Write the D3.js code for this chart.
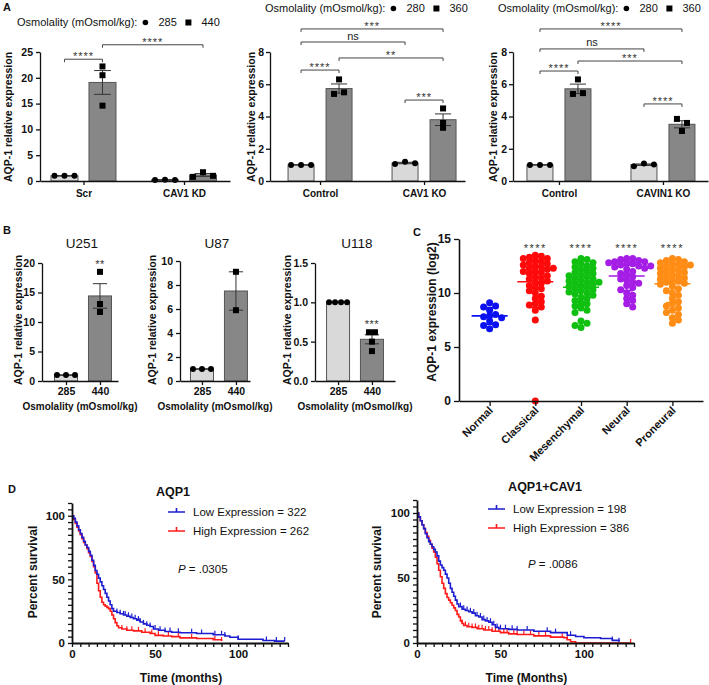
<!DOCTYPE html>
<html>
<head>
<meta charset="utf-8">
<script src="https://cdn.jsdelivr.net/npm/d3@7"></script>
<style>
  body { margin: 0; background: #fff; }
  text { font-family: 'Liberation Sans', Arial, sans-serif; }
</style>
</head>
<body>
<div id="fig"></div>
<script>
// ========================================
// Data
// ========================================
// --- Panel A (qPCR, replicate values per group: [low osmolality, high osmolality])
const osmoA1 = ['285', '440'];
const osmoA2 = ['280', '360'];
const groupsA1 = ['Scr', 'CAV1 KD'];
const groupsA2 = ['Control', 'CAV1 KO'];
const groupsA3 = ['Control', 'CAVIN1 KO'];
const valsA1 = [[[1.0, 1.0, 1.0], [22.2, 20.5, 14.6]], [[0.2, 0.25, 0.2], [0.8, 1.7, 1.0]]];
const valsA2 = [[[1.0, 1.0, 1.0], [6.3, 5.4, 5.5]], [[1.05, 1.2, 1.1], [4.5, 3.3, 3.6]]];
const valsA3 = [[[1.0, 1.0, 1.0], [6.3, 5.4, 5.45]], [[0.92, 1.08, 1.03], [3.85, 3.1, 3.6]]];
// comparisons: [group a, bar a, group b, bar b, label, level in y units]
const sigA1 = [[0, 0, 0, 1, '****', 23.6], [0, 1, 1, 1, '****', 26.4]];
const sigA2 = [[0, 0, 0, 1, '****', 6.88], [0, 1, 1, 1, '**', 7.63], [0, 0, 1, 0, 'ns', 8.62],
               [0, 0, 1, 1, '***', 9.43], [1, 0, 1, 1, '***', 5.02]];
const sigA3 = [[0, 0, 0, 1, '****', 6.82], [0, 1, 1, 1, '***', 7.44], [0, 0, 1, 0, 'ns', 8.19],
               [0, 0, 1, 1, '****', 9.43], [1, 0, 1, 1, '****', 4.78]];

// --- Panel B (cell lines)
const osmoB = ['285', '440'];
const valsU251 = [[1.0, 1.0, 1.0], [18.5, 13.05, 11.7]];
const valsU87 = [[1.0, 1.0, 1.0], [9.1, 5.9]];
const valsU118 = [[1.0, 1.0, 1.0, 1.0], [0.62, 0.5, 0.62, 0.38]];
const starsB = ['**', '', '***'];

// --- Panel C (TCGA subtypes, log2 expression)
const subtypes = ['Normal', 'Classical', 'Mesenchymal', 'Neural', 'Proneural'];
const subColors = ['#0a10f0', '#ff0a0a', '#10c010', '#a41ee6', '#ff8c14'];
const normal = [9.1, 8.8, 8.7, 8.4, 8.0, 7.9, 7.8, 7.7, 7.4, 7.05, 7.0, 6.7];
const classical = [13.5, 13.4, 13.3, 13.2, 13.2, 13.0, 12.9, 12.8, 12.7, 12.6, 12.5, 12.4, 12.3, 12.3,
  12.2, 12.0, 12.0, 11.9, 11.8, 11.6, 11.5, 11.4, 11.3, 11.1, 11.0, 10.9, 10.7, 10.5, 10.4, 10.2,
  10.0, 9.7, 9.5, 9.2, 9.0, 8.9, 8.7, 8.4, 7.5, 0.0];
const mesenchymal = [13.2, 13.1, 12.9, 12.8, 12.7, 12.5, 12.4, 12.3, 12.2, 12.0, 11.9, 11.8, 11.7,
  11.6, 11.5, 11.4, 11.3, 11.2, 11.1, 11.0, 11.0, 10.9, 10.8, 10.7, 10.6, 10.5, 10.4, 10.3, 10.2,
  10.1, 10.0, 9.9, 9.8, 9.6, 9.5, 9.3, 9.1, 9.0, 8.8, 8.6, 8.4, 8.2, 7.4, 7.2, 7.0, 6.8];
const neural = [13.2, 13.2, 13.1, 13.0, 12.9, 12.9, 12.8, 12.7, 12.7, 12.6, 12.5, 12.5, 12.4, 12.3,
  12.2, 12.0, 11.8, 11.7, 11.5, 11.3, 11.2, 11.0, 10.9, 10.7, 10.5, 10.3, 10.0, 9.8, 9.5, 9.3, 9.0, 8.7];
const proneural = [13.2, 13.1, 13.0, 12.9, 12.8, 12.7, 12.6, 12.6, 12.5, 12.4, 12.3, 12.2, 12.1, 12.0,
  11.9, 11.8, 11.7, 11.6, 11.5, 11.4, 11.3, 11.2, 11.1, 11.0, 10.9, 10.8, 10.6, 10.4, 10.2, 10.0,
  9.8, 9.5, 9.2, 9.0, 8.8, 8.6, 8.4, 8.2, 8.0, 7.7, 7.5, 7.2];
const subValues = [normal, classical, mesenchymal, neural, proneural];
const starsC = ['', '****', '****', '****', '****'];

// --- Panel D (Kaplan-Meier: [months, % survival] steps and censored times)
const kmLow1 = [[0, 100], [1, 98], [2, 95], [3, 92], [4, 89], [5, 86], [6, 83], [7, 80], [8, 77], [9, 75],
  [10, 72], [11, 69], [12, 65], [13, 61], [14, 57], [15, 54], [16, 51], [17, 48], [18, 45], [19, 42],
  [20, 39], [21, 36], [22, 33], [23, 30], [24, 27], [25, 25], [27, 24], [29, 23], [31, 22], [33, 21],
  [35, 20], [37, 19], [39, 18], [41, 16.5], [43, 15], [45, 14], [47, 13], [49, 11], [52, 10], [56, 9],
  [60, 8.5], [65, 8], [75, 7.5], [85, 6.5], [92, 5.5], [95, 4.5], [100, 3], [115, 2], [122, 1.5], [128, 1.5]];
const kmHigh1 = [[0, 100], [1, 97], [2, 94], [3, 91], [4, 88], [5, 85], [6, 82], [7, 79], [8, 77], [9, 74],
  [10, 71], [11, 68], [12, 64], [13, 60], [14, 55], [15, 47], [16, 41], [17, 36], [18, 32], [19, 30],
  [20, 29], [21, 28], [22, 27], [23, 25], [24, 22], [25, 19], [26, 16], [27, 13.5], [28, 12], [30, 11],
  [33, 10], [37, 9.5], [42, 8.5], [47, 7.5], [50, 6], [55, 5.5], [60, 5], [65, 4], [75, 3.5], [85, 2.5], [90, 1.5]];
const censLow1 = [27, 29, 31, 32, 34, 36, 38, 40, 41, 43, 45, 47, 50, 53, 56, 59, 64, 72, 78, 86, 90, 92, 100, 117, 123, 128];
const censHigh1 = [30, 33, 36, 40, 44, 48, 52, 58, 64, 72, 86, 90];
const kmLow2 = [[0, 100], [1, 97], [2, 94], [3, 91], [4, 88], [5, 84], [6, 81], [7, 78], [8, 76], [9, 74],
  [10, 72], [11, 70], [12, 67], [13, 63], [14, 60], [15, 58], [16, 56], [17, 53], [18, 50], [19, 46],
  [20, 42], [21, 39], [22, 36], [23, 33], [24, 30], [25, 28], [27, 26], [29, 25], [31, 24], [33, 23],
  [35, 21], [37, 20], [39, 18], [41, 17], [43, 16], [45, 14], [47, 12], [49, 11], [55, 10.5], [60, 10],
  [70, 9], [80, 8], [90, 6], [95, 5], [100, 4], [110, 3.5], [117, 2], [121, 1]];
const kmHigh2 = [[0, 100], [1, 97], [2, 94], [3, 91], [4, 88], [5, 85], [6, 82], [7, 79], [8, 76], [9, 73],
  [10, 70], [11, 66], [12, 61], [13, 56], [14, 51], [15, 46], [16, 42], [17, 38], [18, 35], [19, 33],
  [20, 31], [21, 29], [22, 27], [23, 25], [24, 22], [25, 20], [26, 17], [27, 15], [28, 13.5], [30, 12.5],
  [33, 12], [36, 11], [40, 10], [45, 9], [50, 8], [55, 7], [60, 6.5], [70, 5.5], [80, 4.5], [88, 4],
  [90, 2.5], [92, 1], [95, 0], [128, 0]];
const censLow2 = [26, 28, 30, 32, 34, 36, 38, 40, 42, 44, 46, 48, 50, 53, 57, 60, 66, 78, 83, 92, 117, 121];
const censHigh2 = [27, 29, 31, 33, 35, 37, 39, 41, 43, 45, 47, 49, 52, 54, 58, 60, 64, 68, 73, 77, 87, 90, 128];

// ========================================
// SVG and common styles
// ========================================
const svg = d3.select('#fig').append('svg')
  .attr('width', 709).attr('height', 685)
  .style('background', '#fff');

const INK = '#111', LOWFILL = '#d9d9d9', HIGHFILL = '#878787', EDGE = '#555';

function styleAxis(a, fs) {
  a.selectAll('path, line').attr('stroke', INK).attr('stroke-width', 1.3);
  a.selectAll('text').attr('font-weight', 'bold').attr('font-size', fs).attr('fill', INK);
}

function label(x, y, txt, opt = {}) {
  return svg.append('text')
    .attr('x', x).attr('y', y)
    .attr('text-anchor', opt.anchor || 'start')
    .attr('font-size', opt.fs || 11)
    .attr('font-weight', opt.bold ? 'bold' : 'normal')
    .attr('font-style', opt.italic ? 'italic' : 'normal')
    .attr('fill', opt.fill || INK)
    .attr('transform', opt.rot ? `rotate(${opt.rot},${x},${y})` : null)
    .text(txt);
}

// spread replicate points that would sit on top of each other
function spreadX(vals, y, gap) {
  const pts = vals.map((v, i) => ({ v, i, py: y(v), dx: 0 }));
  const clusters = [];
  pts.slice().sort((a, b) => a.py - b.py).forEach(p => {
    const c = clusters[clusters.length - 1];
    if (c && p.py - c[c.length - 1].py < 4.5) c.push(p); else clusters.push([p]);
  });
  clusters.forEach(c => {
    c.sort((a, b) => a.i - b.i);
    c.forEach((p, j) => { p.dx = (j - (c.length - 1) / 2) * gap; });
  });
  return pts;
}

// ========================================
// Bar chart with replicate points (panels A and B)
// ========================================
function barPanel(o) {
  const g = svg.append('g');
  const x = d3.scalePoint().domain(o.groups).range([o.x0, o.x1]).padding(o.pad).align(o.align);
  const y = d3.scaleLinear().domain([0, o.ymax]).range([o.yb, o.yt]);

  o.vals.forEach((grp, gi) => grp.forEach((pts, bi) => {
    const cx = x(o.groups[gi]) + o.off[bi];
    const m = d3.mean(pts), se = d3.deviation(pts) / Math.sqrt(pts.length);
    g.append('rect')
      .attr('x', cx - o.bw / 2).attr('y', y(m))
      .attr('width', o.bw).attr('height', o.yb - y(m))
      .attr('fill', o.fill(gi, bi)).attr('stroke', EDGE).attr('stroke-width', 1);
    const cap = o.bw * 0.62;
    g.append('path')
      .attr('d', `M${cx},${y(m - se)}V${y(m + se)}M${cx - cap / 2},${y(m + se)}h${cap}M${cx - cap / 2},${y(m - se)}h${cap}`)
      .attr('stroke', '#333').attr('stroke-width', 1).attr('fill', 'none');
    const gap = Math.min(10, (o.bw - 5) / Math.max(1, pts.length - 1));
    spreadX(pts, y, gap).forEach(p => {
      if (o.shape(gi, bi) === 'circle') {
        g.append('circle').attr('cx', cx + p.dx).attr('cy', p.py).attr('r', 3).attr('fill', '#000');
      } else {
        g.append('rect').attr('x', cx + p.dx - 3).attr('y', p.py - 3).attr('width', 6).attr('height', 6).attr('fill', '#000');
      }
    });
    if (o.stars && o.stars[gi]) {
      label(cx, y(d3.max(pts)) - 4, o.stars[gi], { anchor: 'middle', fs: 11, fill: '#333' })
        .attr('letter-spacing', 0.5);
    }
  }));

  (o.sig || []).forEach(s => {
    const xa = x(o.groups[s[0]]) + o.off[s[1]], xb = x(o.groups[s[2]]) + o.off[s[3]], yy = y(s[5]);
    g.append('path').attr('d', `M${xa},${yy + 3}V${yy}H${xb}V${yy + 3}`)
      .attr('fill', 'none').attr('stroke', '#444').attr('stroke-width', 1);
    if (s[4] === 'ns') label((xa + xb) / 2, yy - 2.5, 'ns', { anchor: 'middle', fs: 11, fill: '#222' });
    else label((xa + xb) / 2, yy + 1, s[4], { anchor: 'middle', fs: 11, fill: '#333' }).attr('letter-spacing', 1);
  });

  const yAx = g.append('g').attr('transform', `translate(${o.x0},0)`)
    .call(d3.axisLeft(y).tickValues(o.ticks).tickFormat(o.fmt).tickSize(4).tickPadding(o.ypad || 3).tickSizeOuter(0));
  const xAx = g.append('g').attr('transform', `translate(0,${o.yb})`)
    .call(d3.axisBottom(x).tickSize(4).tickPadding(o.xpad || 3).tickSizeOuter(0));
  styleAxis(yAx, 10.5);
  styleAxis(xAx, o.xfs || 10);
  return { x, y };
}

// legend "Osmolality (mOsmol/kg): ● lo ■ hi"
function osmoLegend(x, y, lo, hi) {
  const t = label(x, y, 'Osmolality (mOsmol/kg):', { fs: 11 });
  const e = x + t.node().getComputedTextLength();
  svg.append('circle').attr('cx', e + 8).attr('cy', y - 3.5).attr('r', 2.8).attr('fill', '#000');
  label(e + 21, y, lo, { fs: 11 });
  svg.append('rect').attr('x', e + 48).attr('y', y - 6.5).attr('width', 6).attr('height', 6).attr('fill', '#000');
  label(e + 64, y, hi, { fs: 11 });
}

// ---------------- Panel A
label(3, 11, 'A', { bold: true, fs: 11 });
const fillA = (gi, bi) => bi ? HIGHFILL : LOWFILL;
const shapeA = (gi, bi) => bi ? 'square' : 'circle';
const fmtInt = d3.format('d');

barPanel({ groups: groupsA1, vals: valsA1, x0: 40, x1: 230, pad: 0.445, align: 0.486, yb: 181, yt: 52,
  ymax: 25, ticks: [0, 5, 10, 15, 20, 25], fmt: fmtInt, off: [-19, 19], bw: 27, fill: fillA, shape: shapeA,
  sig: sigA1, xpad: 5 });
barPanel({ groups: groupsA2, vals: valsA2, x0: 270, x1: 465, pad: 0.4375, align: 0.55, yb: 181, yt: 52,
  ymax: 8, ticks: [0, 2, 4, 6, 8], fmt: fmtInt, off: [-19, 19], bw: 26, fill: fillA, shape: shapeA,
  sig: sigA2, xpad: 5, ypad: 2 });
barPanel({ groups: groupsA3, vals: valsA3, x0: 513, x1: 708, pad: 0.4375, align: 0.505, yb: 181, yt: 52,
  ymax: 8, ticks: [0, 2, 4, 6, 8], fmt: fmtInt, off: [-19, 19], bw: 26, fill: fillA, shape: shapeA,
  sig: sigA3, xpad: 5, ypad: 2 });

osmoLegend(17, 26, osmoA1[0], osmoA1[1]);
osmoLegend(265, 12, osmoA2[0], osmoA2[1]);
osmoLegend(498, 12, osmoA2[0], osmoA2[1]);

label(12, 117, 'AQP-1 relative expression', { fs: 10.5, bold: true, anchor: 'middle', rot: -90 });
label(255, 117, 'AQP-1 relative expression', { fs: 10.5, bold: true, anchor: 'middle', rot: -90 });
label(497, 117, 'AQP-1 relative expression', { fs: 10.5, bold: true, anchor: 'middle', rot: -90 });

// ---------------- Panel B
label(3, 234, 'B', { bold: true, fs: 11 });
const fillB = (gi) => gi ? HIGHFILL : LOWFILL;
const shapeB = (gi) => gi ? 'square' : 'circle';
const bPanels = [
  { name: 'U251', vals: valsU251, x0: 42, x1: 118, pad: 0.618, align: 0.571, ymax: 20, ticks: [0, 5, 10, 15, 20], fmt: fmtInt, yt: 263, ylab: 22 },
  { name: 'U87', vals: valsU87, x0: 180, x1: 250, pad: 0.53, align: 0.61, ymax: 10, ticks: [0, 2, 4, 6, 8, 10], fmt: fmtInt, yt: 261, ylab: 156 },
  { name: 'U118', vals: valsU118, x0: 315, x1: 395, pad: 0.68, align: 0.5, ymax: 1.5, ticks: [0, 0.5, 1, 1.5], fmt: d3.format('.1f'), yt: 263, ylab: 291 }
];
bPanels.forEach((p, i) => {
  barPanel({ groups: osmoB, vals: p.vals.map(v => [v]), x0: p.x0, x1: p.x1, pad: p.pad, align: p.align,
    yb: 381, yt: p.yt, ymax: p.ymax, ticks: p.ticks, fmt: p.fmt, off: [0], bw: 23,
    fill: fillB, shape: shapeB, stars: i === 0 ? ['', starsB[0]] : i === 2 ? ['', starsB[2]] : null, xfs: 10.5 });
  const mid = (p.x0 + p.x1) / 2;
  label(mid + 2, 248, p.name, { fs: 13.5, anchor: 'middle' });
  label(mid, 410, 'Osmolality (mOsmol/kg)', { fs: 10, bold: true, anchor: 'middle' });
  label(p.ylab, 320, 'AQP-1 relative expression', { fs: 10.5, bold: true, anchor: 'middle', rot: -90 });
});

// ---------------- Panel C
label(413, 236, 'C', { bold: true, fs: 11 });
{
  const x = d3.scalePoint().domain(subtypes).range([459, 703]).padding(0.67).align(0.5);
  const y = d3.scaleLinear().domain([0, 15]).range([401, 239]);
  const g = svg.append('g');
  const r = 3.5;
  subValues.forEach((vals, i) => {
    const cx = x(subtypes[i]);
    // simple scatter layout: shift a point sideways while it overlaps a placed neighbour
    const placed = [];
    vals.map(v => ({ v, py: y(v) })).sort((a, b) => a.py - b.py).forEach(p => {
      let k = 0, dx = 0;
      const free = d => placed.every(q => Math.abs(q.py - p.py) >= 5 || Math.abs(q.dx - d) >= 5);
      while (!free(dx)) { k++; dx = (k % 2 ? 1 : -1) * Math.ceil(k / 2) * 1.5; }
      p.dx = dx; placed.push(p);
    });
    g.selectAll(null).data(placed).enter().append('circle')
      .attr('cx', d => cx + d.dx).attr('cy', d => d.py).attr('r', r)
      .attr('fill', subColors[i]);
    const m = d3.mean(vals), sd = d3.deviation(vals);
    g.append('path')
      .attr('d', `M${cx - 18},${y(m)}h36M${cx},${y(m - sd)}V${y(m + sd)}M${cx - 6},${y(m - sd)}h12M${cx - 6},${y(m + sd)}h12`)
      .attr('stroke', subColors[i]).attr('stroke-width', 1.6).attr('fill', 'none');
    if (starsC[i]) label(cx, 252, starsC[i], { anchor: 'middle', fs: 11, fill: '#333' }).attr('letter-spacing', 1.5);
    label(cx + 4, 411, subtypes[i], { anchor: 'end', fs: 11, bold: true, rot: -45 });
  });
  const yAx = g.append('g').attr('transform', 'translate(459,0)')
    .call(d3.axisLeft(y).tickValues([0, 5, 10, 15]).tickSize(5).tickSizeOuter(0));
  const xAx = g.append('g').attr('transform', 'translate(0,401)')
    .call(d3.axisBottom(x).tickSize(5).tickSizeOuter(0).tickFormat(''));
  styleAxis(yAx, 12);
  styleAxis(xAx, 11);
  yAx.select('.domain').attr('stroke-width', 1.6);
  xAx.select('.domain').attr('stroke-width', 1.6);
  label(436, 312, 'AQP-1 expression (log2)', { fs: 12, bold: true, anchor: 'middle', rot: -90 });
}

// ---------------- Panel D
label(8, 493, 'D', { bold: true, fs: 11 });
const LOWC = '#1c1cd0', HIGHC = '#ff1a1a';

function kmPanel(o) {
  const g = svg.append('g');
  const x = d3.scaleLinear().domain([0, 130]).range([o.x0, o.x1]);
  const y = d3.scaleLinear().domain([0, 110]).range([o.yb, o.yt]);
  const line = d3.line().x(d => x(d[0])).y(d => y(d[1])).curve(d3.curveStepAfter);
  const at = (curve, t) => { let s = curve[0][1]; curve.forEach(d => { if (d[0] <= t) s = d[1]; }); return s; };
  [[o.high, o.censHigh, HIGHC], [o.low, o.censLow, LOWC]].forEach(([curve, cens, col]) => {
    g.append('path').datum(curve).attr('d', line).attr('fill', 'none').attr('stroke', col).attr('stroke-width', 1.6);
    g.selectAll(null).data(cens).enter().append('line')
      .attr('x1', d => x(d)).attr('x2', d => x(d))
      .attr('y1', d => y(at(curve, d))).attr('y2', d => y(at(curve, d)) - 4)
      .attr('stroke', col).attr('stroke-width', 1.2);
  });
  const yAx = g.append('g').attr('transform', `translate(${o.x0},0)`)
    .call(d3.axisLeft(y).tickValues(d3.range(0, 111, 5)).tickFormat(d => d % 50 === 0 ? d : '').tickSize(4).tickSizeOuter(0));
  const xAx = g.append('g').attr('transform', `translate(0,${o.yb})`)
    .call(d3.axisBottom(x).tickValues(d3.range(0, 131, 5)).tickFormat(d => d % 50 === 0 ? d : '').tickSize(4).tickSizeOuter(0));
  styleAxis(yAx, 11.5);
  styleAxis(xAx, 11.5);
  yAx.select('.domain').attr('stroke-width', 1.8);
  xAx.select('.domain').attr('stroke-width', 1.8);

  label(o.titleX, o.titleY, o.title, { fs: 12.5, bold: true, anchor: 'middle' });
  [[o.legLow, LOWC], [o.legHigh, HIGHC]].forEach(([txt, col], i) => {
    const ly = o.legY + i * 19;
    g.append('path').attr('d', `M${o.legX},${ly}h17M${o.legX + 8.5},${ly}v-4`).attr('stroke', col).attr('stroke-width', 1.6);
    label(o.legX + 25, ly + 4, txt, { fs: 11.5 });
  });
  const p = label(o.pX, o.pY, 'P', { fs: 11.5, italic: true });
  p.append('tspan').attr('font-style', 'normal').text(' = ' + o.p);
  label(o.ylabX, 572, 'Percent survival', { fs: 12, bold: true, anchor: 'middle', rot: -90 });
  label((o.x0 + x(100)) / 2 + 26, 682, o.xlab, { fs: 12, bold: true, anchor: 'middle' });
}

kmPanel({ x0: 72, x1: 288, yb: 643, yt: 503, low: kmLow1, high: kmHigh1, censLow: censLow1, censHigh: censHigh1,
  title: 'AQP1', titleX: 173, titleY: 496, legX: 168, legY: 512, legLow: 'Low Expression = 322', legHigh: 'High Expression = 262',
  pX: 178, pY: 573, p: '.0305', ylabX: 37, xlab: 'Time (months)' });
kmPanel({ x0: 417, x1: 634, yb: 643, yt: 500, low: kmLow2, high: kmHigh2, censLow: censLow2, censHigh: censHigh2,
  title: 'AQP1+CAV1', titleX: 545, titleY: 491, legX: 488, legY: 509, legLow: 'Low Expression = 198', legHigh: 'High Expression = 386',
  pX: 528, pY: 568, p: '.0086', ylabX: 381, xlab: 'Time (Months)' });
</script>
</body>
</html>
